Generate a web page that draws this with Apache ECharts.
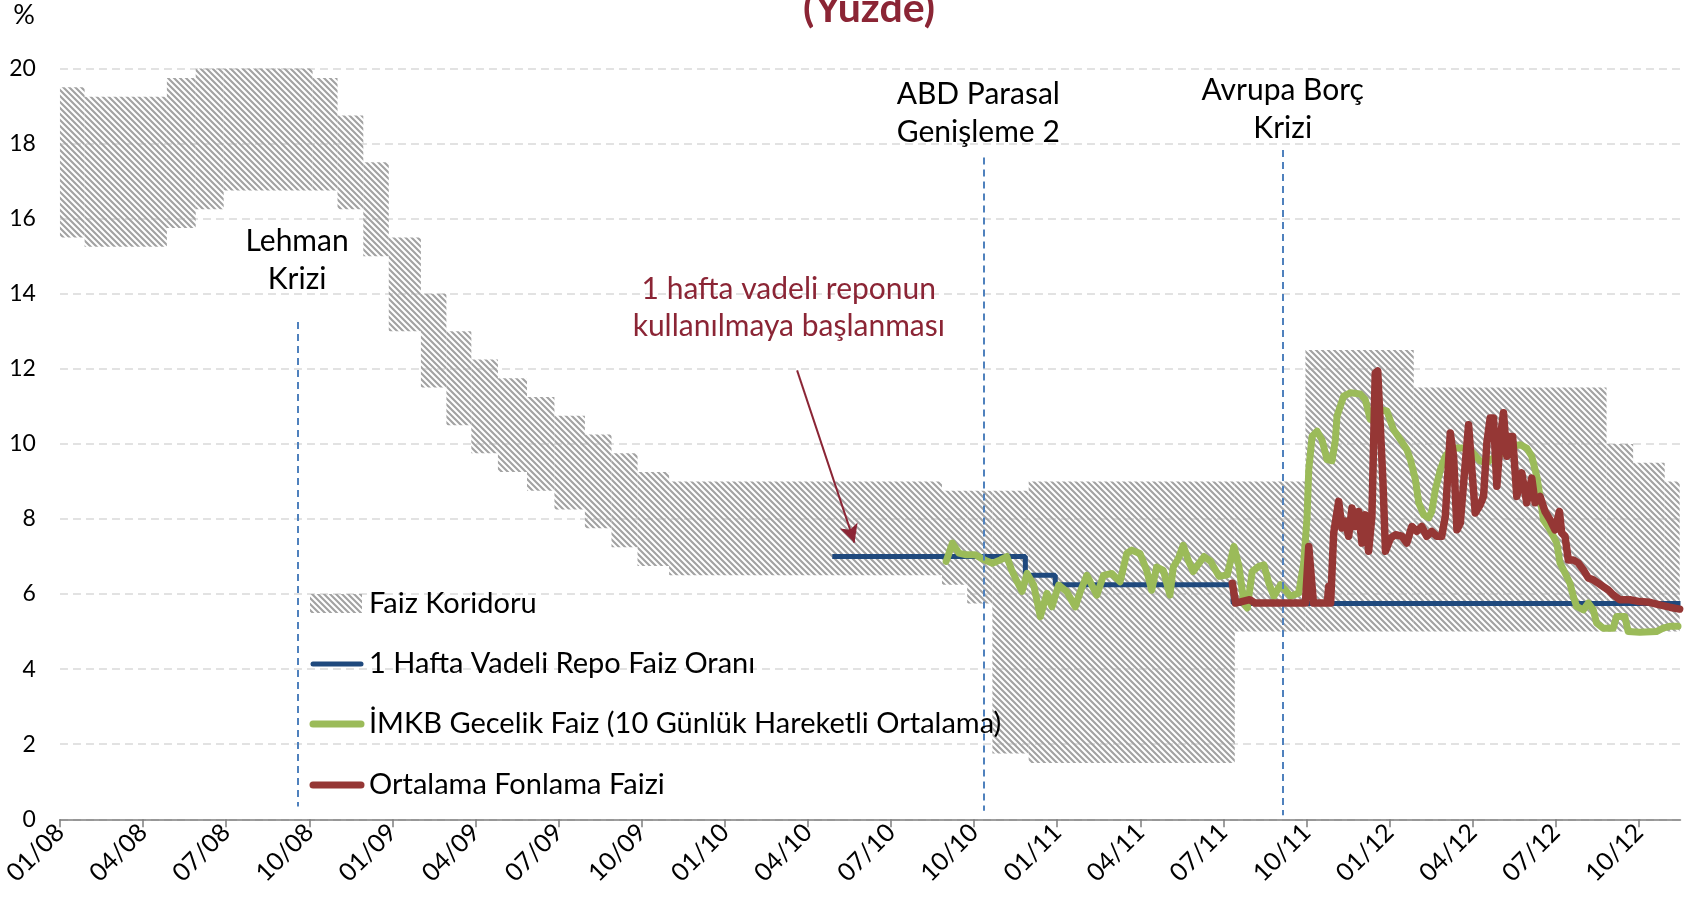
<!DOCTYPE html>
<html>
<head>
<meta charset="utf-8">
<title>Faiz Koridoru</title>
<script src="https://cdn.jsdelivr.net/npm/echarts@6/dist/echarts.min.js"></script>
<style>
    html, body { margin: 0; padding: 0; background: #fff; }
    #chart { width: 1696px; height: 902px; }
</style>
</head>
<body>
<div id="chart"></div>
<script>
// x values are months counted from 01/2008 (0 = 01/08, 3 = 04/08 ...)
var tickMonths = [0, 3, 6, 9, 12, 15, 18, 21, 24, 27, 30, 33, 36, 39, 42, 45, 48, 51, 54, 57];
var tickLabels = ['01/08', '04/08', '07/08', '10/08', '01/09', '04/09', '07/09', '10/09', '01/10', '04/10',
    '07/10', '10/10', '01/11', '04/11', '07/11', '10/11', '01/12', '04/12', '07/12', '10/12'];

// faiz koridoru: each step starts at corridorMonth[i] and ends at corridorMonth[i + 1]
var corridorMonth = [0, 0.89, 3.86, 4.9, 5.91, 9.12, 10.02, 10.95, 11.87, 13.03, 13.95, 14.85, 15.81, 16.86,
    17.85, 18.95, 19.91, 20.85, 21.99, 31.84, 32.75, 33.66, 34.97, 42.41, 44.96, 48.87, 55.83, 56.79, 57.93, 58.47];
var corridorLow = [15.5, 15.25, 15.75, 16.25, 16.75, 16.75, 16.25, 15.0, 13.0, 11.5, 10.5, 9.75, 9.25, 8.75,
    8.25, 7.75, 7.25, 6.75, 6.5, 6.25, 5.75, 1.75, 1.5, 5.0, 5.0, 5.0, 5.0, 5.0, 5.0];
var corridorHigh = [19.5, 19.25, 19.75, 20, 20, 19.75, 18.75, 17.5, 15.5, 14.0, 13.0, 12.25, 11.75, 11.25,
    10.75, 10.25, 9.75, 9.25, 9.0, 8.75, 8.75, 8.75, 9.0, 9.0, 12.5, 11.5, 10.0, 9.5, 9.0];

// 1 hafta vadeli repo
var repoMonth = [27.88, 34.85, 35.93, 42.35, 58.5];
var repoRate = [7.0, 6.5, 6.25, 5.75, 5.75];

// IMKB gecelik faiz (10 gunluk hareketli ortalama)
var imkbMonth = [31.99, 32.22, 32.45, 32.68, 33.03, 33.37, 33.66, 33.95, 34.18, 34.35,
    34.52, 34.73, 34.91, 35.15, 35.39, 35.63, 35.81, 36.05, 36.35, 36.65,
    36.83, 37.07, 37.43, 37.67, 37.97, 38.27, 38.51, 38.69, 38.99, 39.23,
    39.41, 39.59, 39.83, 40.07, 40.19, 40.37, 40.55, 40.73, 40.91, 41.12,
    41.3, 41.54, 41.84, 42.14, 42.38, 42.56, 42.74, 42.86, 43.04, 43.28,
    43.46, 43.64, 43.82, 44.06, 44.24, 44.42, 44.72, 44.9, 45.02, 45.08,
    45.2, 45.38, 45.56, 45.74, 45.92, 46.04, 46.1, 46.34, 46.58, 46.94,
    47.12, 47.3, 47.66, 47.9, 48.14, 48.39, 48.62, 48.75, 48.93, 49.05,
    49.23, 49.41, 49.52, 49.65, 49.83, 50.01, 50.24, 50.67, 50.96, 51.27,
    51.51, 51.75, 52.11, 52.47, 52.71, 52.95, 53.13, 53.31, 53.43, 53.55,
    53.79, 54.03, 54.15, 54.33, 54.51, 54.63, 54.75, 54.99, 55.17, 55.35,
    55.47, 55.71, 56.07, 56.19, 56.49, 56.61, 57.03, 57.63, 57.87, 58.11,
    58.41];
var imkbRate = [6.87, 7.36, 7.09, 7.05, 7.05, 6.91, 6.82, 6.91, 7.0, 6.65,
    6.38, 6.07, 6.55, 6.24, 5.4, 6.02, 5.66, 6.24, 6.06, 5.66,
    6.06, 6.5, 5.97, 6.5, 6.55, 6.33, 7.08, 7.17, 7.08, 6.63,
    6.1, 6.72, 6.63, 5.97, 6.72, 6.94, 7.3, 6.9, 6.6, 6.82,
    7.0, 6.87, 6.47, 6.51, 7.27, 6.74, 5.76, 5.63, 6.6, 6.74,
    6.78, 6.29, 5.94, 6.25, 6.11, 5.94, 6.03, 6.83, 8.07, 9.31,
    10.2, 10.34, 10.1, 9.58, 9.55, 10.1, 10.74, 11.27, 11.36, 11.33,
    11.18, 10.65, 10.91, 10.88, 10.38, 10.11, 9.85, 9.58, 9.05, 8.43,
    8.11, 8.03, 8.2, 8.78, 9.31, 9.67, 9.89, 9.89, 9.8, 9.54,
    9.5, 9.63, 9.76, 9.94, 9.98, 9.89, 9.67, 9.14, 8.6, 7.98,
    7.71, 7.36, 6.83, 6.56, 6.29, 5.94, 5.67, 5.58, 5.76, 5.58,
    5.23, 5.09, 5.09, 5.4, 5.4, 5.0, 4.98, 5.0, 5.09, 5.14,
    5.14];

// ortalama fonlama faizi
var fonMonth = [42.32, 42.44, 42.95, 43.14, 44.96, 45.08, 45.25, 45.75, 45.8, 45.87,
    45.98, 46.16, 46.28, 46.4, 46.52, 46.64, 46.76, 46.88, 47.0, 47.12,
    47.24, 47.36, 47.48, 47.57, 47.67, 47.76, 47.85, 48.03, 48.21, 48.44,
    48.62, 48.8, 48.98, 49.16, 49.34, 49.52, 49.7, 49.88, 50.01, 50.19,
    50.31, 50.43, 50.55, 50.67, 50.85, 50.97, 51.09, 51.27, 51.39, 51.51,
    51.63, 51.75, 51.87, 51.99, 52.11, 52.23, 52.32, 52.44, 52.59, 52.77,
    52.95, 53.13, 53.25, 53.43, 53.61, 53.79, 53.97, 54.13, 54.21, 54.33,
    54.45, 54.63, 54.81, 54.99, 55.17, 55.35, 55.53, 55.71, 55.89, 56.07,
    56.31, 56.67, 57.03, 57.39, 57.75, 58.11, 58.47];
var fonRate = [6.29, 5.76, 5.85, 5.76, 5.76, 7.27, 5.76, 5.76, 6.2, 5.76,
    7.63, 8.47, 7.76, 7.94, 7.54, 8.29, 7.8, 8.2, 7.36, 8.11,
    7.14, 8.07, 11.89, 11.94, 10.38, 8.96, 7.14, 7.49, 7.58, 7.54,
    7.36, 7.8, 7.67, 7.8, 7.54, 7.67, 7.54, 7.54, 8.07, 10.29,
    9.67, 7.71, 7.89, 8.96, 10.51, 9.31, 8.16, 8.38, 8.6, 10.03,
    10.69, 10.69, 8.87, 10.11, 10.83, 9.67, 10.2, 10.2, 8.6, 9.23,
    8.43, 9.09, 8.43, 8.6, 8.2, 7.98, 7.71, 8.2, 7.63, 7.54,
    6.91, 6.91, 6.83, 6.65, 6.43, 6.38, 6.29, 6.2, 6.11, 5.98,
    5.85, 5.85, 5.8, 5.78, 5.71, 5.65, 5.6];

// olaylar (dikey kesikli cizgiler)
var eventMonth = [8.59, 33.33, 44.13];
var eventTop = [13.25, 17.63, 17.83];
var eventBottom = [0.34, 0.23, 0.11];
var eventText = ['Lehman\nKrizi', 'ABD Parasal\nGenişleme 2', 'Avrupa Borç\nKrizi'];
var eventTextMonth = [8.56, 33.15, 44.14];
var eventTextRate = [14.9, 18.8, 18.9];

var noteText = '1 hafta vadeli reponun\nkullanılmaya başlanması';
var noteAt = [26.31, 13.62];
var arrowFrom = [26.61, 11.96];
var arrowTo = [28.68, 7.37];

var names = ['Faiz Koridoru', '1 Hafta Vadeli Repo Faiz Oranı',
    'İMKB Gecelik Faiz (10 Günlük Hareketli Ortalama)', 'Ortalama Fonlama Faizi'];

var FONT = 'Lato';
var BLUE = '#1F497D', GREEN = '#9BBB59', RED = '#953735', NOTE = '#8B2535';

function zip(xs, ys) {
    return xs.map(function (x, i) { return [x, ys[i]]; });
}

// tarama deseni
var hatch = document.createElement('canvas');
hatch.width = 6;
hatch.height = 6;
var hc = hatch.getContext('2d');
hc.strokeStyle = '#a2a2a2';
hc.lineWidth = 2.1;
hc.beginPath();
[-6, 0, 6].forEach(function (c) {
    hc.moveTo(-1, -1 + c);
    hc.lineTo(7, 7 + c);
});
hc.stroke();
var hatchFill = { image: hatch, repeat: 'repeat' };

var corridorData = corridorLow.map(function (low, i) {
    return [corridorMonth[i], corridorMonth[i + 1], low, corridorHigh[i]];
});

var eventLines = eventMonth.map(function (m, i) {
    return [{ coord: [m, eventTop[i]] }, { coord: [m, eventBottom[i]] }];
});

var chart = echarts.init(document.getElementById('chart'));

chart.setOption({
    animation: false,
    backgroundColor: '#fff',
    textStyle: { fontFamily: FONT },
    grid: { left: 58, right: 15.5, top: 68.5, bottom: 82.7, containLabel: false },
    xAxis: {
        type: 'value',
        min: 0,
        max: 58.5,
        axisLine: { lineStyle: { color: '#7f7f7f', width: 1.5 } },
        axisTick: { show: true, length: 8, lineStyle: { color: '#7f7f7f', width: 1.5 }, customValues: tickMonths },
        axisLabel: {
            customValues: tickMonths,
            rotate: 45,
            margin: 9,
            fontSize: 25,
            fontFamily: FONT,
            color: '#000',
            formatter: function (v) {
                var i = tickMonths.indexOf(Math.round(v));
                return i < 0 ? '' : tickLabels[i];
            }
        },
        splitLine: { show: false }
    },
    yAxis: {
        type: 'value',
        min: 0,
        max: 20,
        interval: 2,
        axisLine: { show: false },
        axisTick: { show: false },
        axisLabel: { fontSize: 23, fontFamily: FONT, color: '#000', margin: 24 },
        splitLine: { lineStyle: { color: '#d9d9d9', width: 1.5, type: [8, 5] } }
    },
    series: [
        {
            type: 'custom',
            name: names[0],
            data: corridorData,
            encode: { x: [0, 1], y: [2, 3] },
            z: 1,
            renderItem: function (params, api) {
                var p0 = api.coord([api.value(0), api.value(3)]);
                var p1 = api.coord([api.value(1), api.value(2)]);
                return {
                    type: 'rect',
                    shape: { x: p0[0], y: p0[1], width: p1[0] - p0[0], height: p1[1] - p0[1] },
                    style: { fill: hatchFill }
                };
            }
        },
        {
            type: 'line',
            name: names[1],
            data: zip(repoMonth, repoRate),
            step: 'end',
            symbol: 'none',
            z: 3,
            lineStyle: { color: BLUE, width: 5 }
        },
        {
            type: 'line',
            name: names[2],
            data: zip(imkbMonth, imkbRate),
            symbol: 'none',
            z: 4,
            lineStyle: { color: GREEN, width: 7, cap: 'round', join: 'round' }
        },
        {
            type: 'line',
            name: names[3],
            data: zip(fonMonth, fonRate),
            symbol: 'none',
            z: 5,
            lineStyle: { color: RED, width: 7.5, cap: 'round', join: 'round' }
        },
        {
            type: 'line',
            name: 'olaylar',
            data: [],
            z: 6,
            markLine: {
                silent: true,
                symbol: ['none', 'none'],
                label: { show: false },
                lineStyle: { color: '#4F81BD', width: 2, type: [7, 5] },
                data: eventLines
            }
        },
        {
            type: 'line',
            name: 'ok',
            data: [],
            z: 6,
            markLine: {
                silent: true,
                symbol: ['none', 'arrow'],
                symbolSize: [14, 18],
                label: { show: false },
                lineStyle: { color: NOTE, width: 2, type: 'solid' },
                data: [[{ coord: arrowFrom }, { coord: arrowTo }]]
            }
        }
    ]
});

function px(m, v) {
    return chart.convertToPixel({ gridIndex: 0 }, [m, v]);
}

var graphics = [];

// baslik ve birim
graphics.push({
    type: 'text', z: 20,
    style: { text: '(Yüzde)', x: 869, y: 9, align: 'center', verticalAlign: 'middle',
        font: 'bold 41px ' + FONT, fill: NOTE }
});
graphics.push({
    type: 'text', z: 20,
    style: { text: '%', x: 24, y: 15, align: 'center', verticalAlign: 'middle',
        font: '27px ' + FONT, fill: '#000' }
});

// olay etiketleri
eventText.forEach(function (t, i) {
    var p = px(eventTextMonth[i], eventTextRate[i]);
    graphics.push({
        type: 'text', z: 20,
        style: { text: t, x: p[0], y: p[1], align: 'center', verticalAlign: 'middle',
            font: '30px ' + FONT, lineHeight: 38, fill: '#000' }
    });
});

var np = px(noteAt[0], noteAt[1]);
graphics.push({
    type: 'text', z: 20,
    style: { text: noteText, x: np[0], y: np[1], align: 'center', verticalAlign: 'middle',
        font: '30px ' + FONT, lineHeight: 37, fill: NOTE }
});

// gosterge
var legendX = 310, legendTextX = 369, legendY = [603.5, 664, 724, 785];
var legendColor = [null, BLUE, GREEN, RED];
var legendWidth = [0, 5, 7, 7];
names.forEach(function (n, i) {
    if (i === 0) {
        graphics.push({
            type: 'rect', z: 15,
            shape: { x: legendX, y: legendY[i] - 9.5, width: 52, height: 19 },
            style: { fill: hatchFill }
        });
    } else {
        graphics.push({
            type: 'line', z: 15,
            shape: { x1: legendX + 3, y1: legendY[i], x2: legendX + 51, y2: legendY[i] },
            style: { stroke: legendColor[i], lineWidth: legendWidth[i], lineCap: 'round' }
        });
    }
    graphics.push({
        type: 'text', z: 15,
        style: { text: n, x: legendTextX, y: legendY[i], align: 'left', verticalAlign: 'middle',
            font: '29px ' + FONT, fill: '#000' }
    });
});

chart.setOption({ graphic: graphics });

window.onresize = function () {
    chart.resize();
};
</script>
</body>
</html>
